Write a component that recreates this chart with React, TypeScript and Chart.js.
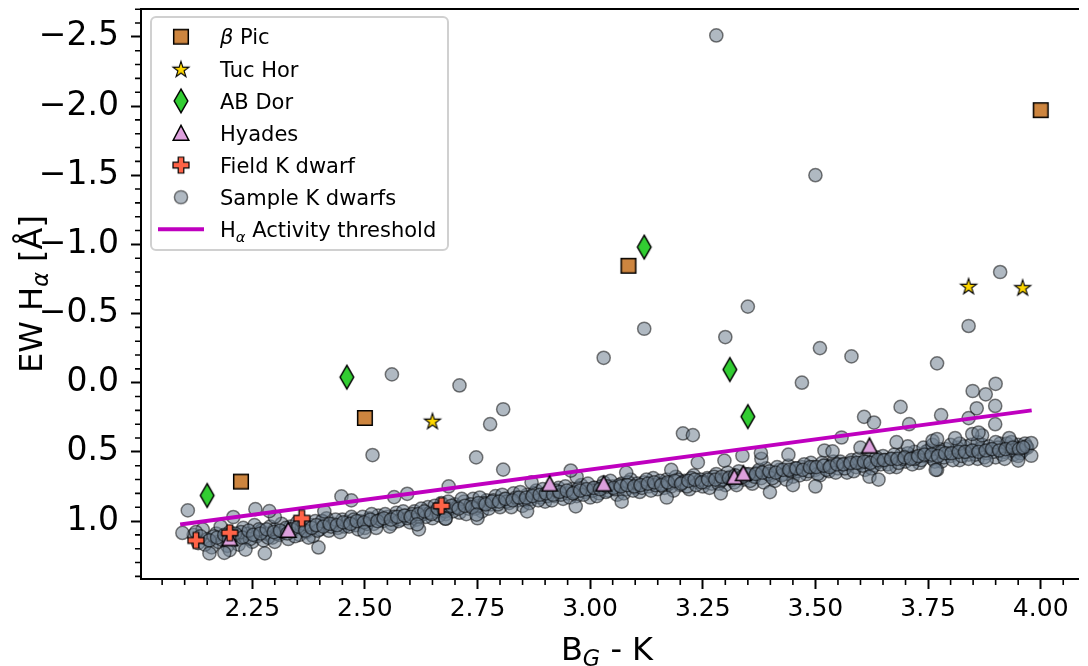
import React, { useEffect, useRef } from 'react';
import { Chart, registerables } from 'chart.js';
Chart.register(...registerables);

const FONT = '"DejaVu Sans", sans-serif';

const xTickValues = [2.25, 2.5, 2.75, 3.0, 3.25, 3.5, 3.75, 4.0];
const xTickLabels = ['2.25', '2.50', '2.75', '3.00', '3.25', '3.50', '3.75', '4.00'];
const yTickValues = [-2.5, -2.0, -1.5, -1.0, -0.5, 0.0, 0.5, 1.0];
const yTickLabels = ['\u22122.5', '\u22122.0', '\u22121.5', '\u22121.0', '\u22120.5', '0.0', '0.5', '1.0'];

const betaPicX = [2.225, 2.5, 3.085, 4.0];
const betaPicY = [0.715, 0.255, -0.845, -1.97];
const tucHorX = [2.65, 3.84, 3.96];
const tucHorY = [0.275, -0.7, -0.69];
const abDorX = [2.15, 2.46, 3.12, 3.31, 3.35];
const abDorY = [0.815, -0.04, -0.98, -0.095, 0.245];
const hyadesX = [2.2, 2.33, 2.91, 3.03, 3.32, 3.34, 3.62];
const hyadesY = [1.125, 1.065, 0.73, 0.73, 0.68, 0.655, 0.455];
const fieldX = [2.125, 2.2, 2.36, 2.67];
const fieldY = [1.14, 1.085, 0.98, 0.89];
const thresholdX = [2.09, 3.98];
const thresholdY = [1.025, 0.2];

const sampleOutliers: [number, number][] = [
  [3.28, -2.51], [3.5, -1.5], [3.91, -0.8], [3.35, -0.55], [3.84, -0.41], [3.12, -0.39], [3.3, -0.33],
  [3.51, -0.25], [3.58, -0.19], [3.03, -0.18], [3.77, -0.14], [2.56, -0.06], [3.47, 0.0], [3.9, 0.008],
  [2.71, 0.02], [3.849, 0.06], [3.878, 0.084], [3.858, 0.185], [3.899, 0.168], [3.84, 0.256], [3.899, 0.3],
  [3.779, 0.235], [3.689, 0.175], [3.608, 0.247], [3.63, 0.288], [3.708, 0.3], [3.558, 0.396], [3.538, 0.497],
  [3.379, 0.508], [3.338, 0.528], [3.399, 0.791], [3.767, 0.63], [3.95, 0.563], [3.979, 0.528], [3.979, 0.436],
  [3.961, 0.468], [3.848, 0.371], [3.862, 0.36], [3.77, 0.407], [2.807, 0.192], [2.778, 0.3], [2.747, 0.54],
  [2.807, 0.628], [3.206, 0.367], [3.228, 0.379], [2.968, 0.894], [2.748, 0.954], [2.679, 0.983], [2.957, 0.635],
  [3.239, 0.576], [3.298, 0.563], [2.107, 0.923], [2.095, 1.086], [2.517, 0.523], [2.155, 1.234], [2.188, 1.23],
  [2.235, 1.206], [2.278, 1.234], [2.397, 1.191], [2.257, 0.914], [2.288, 0.928], [2.448, 0.822], [2.47, 0.851],
  [2.499, 1.079], [2.616, 1.024], [2.686, 0.75], [2.565, 0.827], [2.594, 0.803], [2.679, 0.983], [2.208, 0.971],
];

const sampleBand: [number, number][] = [
  [2.12, 1.1], [2.13, 1.16], [2.14, 1.06], [2.15, 1.13], [2.16, 1.19], [2.17, 1.09], [2.175, 1.15], [2.18, 1.04],
  [2.19, 1.12], [2.195, 1.18], [2.2, 1.08], [2.21, 1.14], [2.215, 1.1], [2.22, 1.17], [2.23, 1.05], [2.235, 1.12],
  [2.24, 1.09], [2.25, 1.15], [2.255, 1.03], [2.26, 1.11], [2.27, 1.07], [2.275, 1.14], [2.28, 1.09], [2.29, 1.04],
  [2.295, 1.12], [2.3, 1.06], [2.31, 1.1], [2.315, 1.02], [2.32, 1.08], [2.33, 1.13], [2.335, 1.04], [2.34, 1.07],
  [2.35, 1.01], [2.355, 1.1], [2.36, 1.05], [2.37, 1.08], [2.38, 1.03], [2.385, 1.11], [2.39, 1.0], [2.4, 1.06],
  [2.41, 1.03], [2.415, 0.98], [2.42, 1.07], [2.43, 1.02], [2.44, 1.05], [2.45, 0.99], [2.455, 1.04], [2.46, 1.01],
  [2.47, 0.97], [2.48, 1.03], [2.49, 1.0], [2.5, 1.05], [2.51, 0.98], [2.52, 1.02], [2.53, 0.96], [2.54, 1.0],
  [2.55, 0.97], [2.56, 1.02], [2.57, 0.94], [2.58, 0.99], [2.59, 0.96], [2.6, 1.01], [2.61, 0.93], [2.62, 0.97],
  [2.63, 0.95], [2.64, 0.9], [2.65, 0.98], [2.66, 0.93], [2.67, 0.87], [2.68, 0.95], [2.69, 0.91], [2.7, 0.88],
  [2.71, 0.94], [2.72, 0.86], [2.73, 0.91], [2.74, 0.84], [2.75, 0.89], [2.76, 0.93], [2.77, 0.85], [2.78, 0.88],
  [2.79, 0.82], [2.8, 0.9], [2.81, 0.84], [2.82, 0.87], [2.83, 0.8], [2.84, 0.85], [2.85, 0.89], [2.86, 0.81],
  [2.87, 0.84], [2.88, 0.78], [2.89, 0.83], [2.9, 0.86], [2.91, 0.79], [2.92, 0.82], [2.93, 0.76], [2.94, 0.84],
  [2.95, 0.8], [2.96, 0.77], [2.97, 0.82], [2.98, 0.74], [2.99, 0.79], [3.0, 0.83], [3.01, 0.76], [3.02, 0.8],
  [3.03, 0.72], [3.04, 0.78], [3.05, 0.75], [3.06, 0.81], [3.07, 0.73], [3.08, 0.77], [3.09, 0.7], [3.1, 0.76],
  [3.11, 0.79], [3.12, 0.72], [3.13, 0.75], [3.14, 0.69], [3.15, 0.77], [3.16, 0.73], [3.17, 0.7], [3.18, 0.75],
  [3.19, 0.68], [3.2, 0.74], [3.21, 0.71], [3.22, 0.77], [3.23, 0.67], [3.24, 0.72], [3.25, 0.75], [3.26, 0.69],
  [3.27, 0.73], [3.28, 0.66], [3.29, 0.71], [3.3, 0.74], [3.31, 0.68], [3.32, 0.72], [3.33, 0.64], [3.34, 0.7],
  [3.35, 0.67], [3.36, 0.73], [3.37, 0.65], [3.38, 0.69], [3.39, 0.62], [3.4, 0.67], [3.41, 0.71], [3.42, 0.63],
  [3.43, 0.66], [3.44, 0.6], [3.45, 0.68], [3.46, 0.64], [3.47, 0.61], [3.48, 0.66], [3.49, 0.58], [3.5, 0.63],
  [3.51, 0.67], [3.52, 0.6], [3.53, 0.64], [3.54, 0.57], [3.55, 0.62], [3.56, 0.59], [3.57, 0.65], [3.58, 0.56],
  [3.59, 0.61], [3.6, 0.58], [3.61, 0.63], [3.62, 0.55], [3.63, 0.6], [3.64, 0.57], [3.65, 0.53], [3.66, 0.59],
  [3.67, 0.55], [3.68, 0.61], [3.69, 0.52], [3.7, 0.57], [3.71, 0.54], [3.72, 0.5], [3.73, 0.58], [3.74, 0.53],
  [3.75, 0.49], [3.76, 0.55], [3.77, 0.51], [3.78, 0.57], [3.79, 0.48], [3.8, 0.53], [3.81, 0.5], [3.82, 0.56],
  [3.83, 0.46], [3.84, 0.52], [3.85, 0.49], [3.86, 0.55], [3.87, 0.45], [3.88, 0.51], [3.89, 0.48], [3.9, 0.54],
  [3.91, 0.44], [3.92, 0.5], [3.93, 0.47], [3.94, 0.52], [3.95, 0.45], [3.96, 0.49], [3.97, 0.47],
  [2.125, 1.08], [2.145, 1.17], [2.165, 1.11], [2.185, 1.14], [2.205, 1.11], [2.225, 1.08], [2.245, 1.13],
  [2.265, 1.06], [2.285, 1.12], [2.305, 1.09], [2.325, 1.05], [2.345, 1.11], [2.365, 1.02], [2.375, 1.12],
  [2.395, 1.07], [2.405, 1.0], [2.425, 1.04], [2.435, 0.99], [2.445, 1.08], [2.465, 1.04], [2.475, 0.99],
  [2.485, 1.06], [2.495, 0.97], [2.505, 1.02], [2.515, 0.95], [2.525, 1.05], [2.535, 0.99], [2.545, 0.95],
  [2.555, 1.04], [2.565, 0.97], [2.575, 1.0], [2.585, 0.93], [2.595, 0.98], [2.605, 0.95], [2.615, 0.99],
  [2.625, 0.91], [2.635, 0.97], [2.645, 0.94], [2.655, 0.89], [2.665, 0.96], [2.675, 0.92], [2.685, 0.86],
  [2.695, 0.93], [2.705, 0.9], [2.715, 0.84], [2.725, 0.95], [2.735, 0.88], [2.745, 0.91], [2.755, 0.83],
  [2.765, 0.87], [2.775, 0.91], [2.785, 0.85], [2.795, 0.88], [2.805, 0.81], [2.815, 0.86], [2.825, 0.9],
  [2.835, 0.83], [2.845, 0.79], [2.855, 0.85], [2.865, 0.87], [2.875, 0.8], [2.885, 0.85], [2.895, 0.77],
  [2.905, 0.82], [2.915, 0.85], [2.925, 0.78], [2.935, 0.81], [2.945, 0.75], [2.955, 0.83], [2.965, 0.79],
  [2.975, 0.76], [2.985, 0.81], [2.995, 0.73], [3.005, 0.78], [3.015, 0.82], [3.025, 0.75], [3.035, 0.79],
  [3.045, 0.71], [3.055, 0.77], [3.065, 0.74], [3.075, 0.8], [3.085, 0.72], [3.095, 0.78], [3.105, 0.73],
  [3.115, 0.76], [3.125, 0.7], [3.135, 0.78], [3.145, 0.74], [3.155, 0.71], [3.165, 0.76], [3.175, 0.73],
  [3.185, 0.78], [3.195, 0.7], [3.205, 0.72], [3.215, 0.75], [3.225, 0.69], [3.235, 0.74], [3.245, 0.7],
  [3.255, 0.72], [3.265, 0.76], [3.275, 0.68], [3.285, 0.73], [3.295, 0.7], [3.305, 0.65], [3.315, 0.7],
  [3.325, 0.74], [3.345, 0.66], [3.355, 0.71], [3.365, 0.68], [3.375, 0.63], [3.385, 0.72], [3.395, 0.66],
  [3.405, 0.69], [3.415, 0.61], [3.425, 0.67], [3.435, 0.7], [3.445, 0.64], [3.455, 0.62], [3.465, 0.67],
  [3.475, 0.59], [3.485, 0.64], [3.495, 0.61], [3.505, 0.66], [3.515, 0.58], [3.525, 0.63], [3.535, 0.6],
  [3.545, 0.65], [3.555, 0.57], [3.565, 0.62], [3.575, 0.59], [3.585, 0.64], [3.595, 0.55], [3.605, 0.6],
  [3.615, 0.57], [3.625, 0.62], [3.635, 0.54], [3.645, 0.59], [3.655, 0.56], [3.665, 0.61], [3.675, 0.52],
  [3.685, 0.58], [3.695, 0.55], [3.705, 0.51], [3.715, 0.59], [3.725, 0.54], [3.735, 0.56], [3.745, 0.5],
  [3.755, 0.53], [3.765, 0.57], [3.775, 0.48], [3.785, 0.54], [3.795, 0.51], [3.805, 0.56], [3.815, 0.47],
  [3.825, 0.53], [3.835, 0.5], [3.845, 0.45], [3.855, 0.52], [3.865, 0.48], [3.875, 0.54], [3.885, 0.46],
  [3.895, 0.5], [3.905, 0.47], [3.915, 0.52], [3.925, 0.44], [3.935, 0.49], [3.945, 0.47], [3.955, 0.51],
  [3.965, 0.44],
  [3.705, 0.46], [3.72, 0.55], [3.74, 0.47], [3.76, 0.45], [3.78, 0.5], [3.8, 0.45], [3.82, 0.44], [3.84, 0.55],
  [3.86, 0.43], [3.88, 0.56], [3.9, 0.43], [3.92, 0.55], [3.935, 0.43], [3.95, 0.53],
  [2.2, 1.21], [2.3, 1.15], [2.62, 1.06], [2.75, 0.98], [2.86, 0.93], [3.07, 0.86], [3.17, 0.83], [3.29, 0.8],
  [3.45, 0.74], [3.62, 0.68], [3.77, 0.63], [3.64, 0.7], [3.5, 0.75],
  [2.3, 0.97], [2.41, 0.93], [2.87, 0.72], [2.97, 0.68], [3.08, 0.65], [3.18, 0.63], [3.38, 0.55], [3.44, 0.52],
  [3.52, 0.49], [3.6, 0.47], [3.68, 0.43], [3.76, 0.42], [3.81, 0.4], [3.87, 0.38], [3.93, 0.4],
];

const sampleCore: [number, number][] = [
  [2.135, 1.11], [2.155, 1.14], [2.172, 1.12], [2.188, 1.1], [2.198, 1.13], [2.212, 1.09], [2.228, 1.12],
  [2.242, 1.07], [2.252, 1.1], [2.268, 1.09], [2.282, 1.06], [2.298, 1.08], [2.312, 1.07], [2.328, 1.09],
  [2.338, 1.06], [2.352, 1.04], [2.368, 1.07], [2.382, 1.05], [2.392, 1.03], [2.408, 1.04], [2.422, 1.02],
  [2.438, 1.03], [2.452, 1.01], [2.468, 1.02], [2.482, 1.0], [2.498, 1.01], [2.512, 0.99], [2.528, 1.0],
  [2.542, 0.98], [2.558, 0.99], [2.572, 0.97], [2.588, 0.96], [2.602, 0.97], [2.618, 0.95], [2.632, 0.93],
  [2.648, 0.95], [2.662, 0.91], [2.678, 0.93], [2.692, 0.89], [2.708, 0.91], [2.722, 0.89], [2.738, 0.9],
  [2.752, 0.87], [2.768, 0.88], [2.782, 0.86], [2.798, 0.86], [2.812, 0.84], [2.828, 0.85], [2.842, 0.83],
  [2.858, 0.83], [2.872, 0.82], [2.888, 0.81], [2.902, 0.8], [2.918, 0.81], [2.932, 0.79], [2.948, 0.78],
  [2.962, 0.8], [2.978, 0.78], [2.992, 0.77], [3.008, 0.76], [3.022, 0.77], [3.038, 0.75], [3.052, 0.76],
  [3.068, 0.75], [3.082, 0.74], [3.098, 0.75], [3.112, 0.74], [3.128, 0.73], [3.142, 0.72], [3.158, 0.74],
  [3.172, 0.72], [3.188, 0.71], [3.202, 0.73], [3.218, 0.71], [3.232, 0.7], [3.248, 0.72], [3.262, 0.7],
  [3.278, 0.7], [3.292, 0.68], [3.308, 0.69], [3.322, 0.67], [3.338, 0.68], [3.352, 0.66], [3.368, 0.66],
  [3.382, 0.65], [3.398, 0.64], [3.412, 0.65], [3.428, 0.63], [3.442, 0.63], [3.458, 0.62], [3.472, 0.63],
  [3.488, 0.61], [3.502, 0.61], [3.518, 0.6], [3.532, 0.61], [3.548, 0.59], [3.562, 0.59], [3.578, 0.58],
  [3.592, 0.58], [3.608, 0.57], [3.622, 0.58], [3.638, 0.56], [3.652, 0.56], [3.668, 0.55], [3.682, 0.55],
  [3.698, 0.54], [3.712, 0.55], [3.728, 0.53], [3.742, 0.52], [3.758, 0.52], [3.772, 0.53], [3.788, 0.51],
  [3.802, 0.51], [3.818, 0.5], [3.832, 0.5], [3.848, 0.49], [3.862, 0.5], [3.878, 0.49], [3.892, 0.48],
  [3.908, 0.49], [3.922, 0.48], [3.938, 0.47], [3.952, 0.48], [3.968, 0.46],
];

const X_MIN = 2.0031;
const X_MAX = 4.085;
const Y_MIN = -2.7013;
const Y_MAX = 1.419;

function markerCanvas(w: number, h: number, draw: (ctx: CanvasRenderingContext2D, cx: number, cy: number) => void) {
  const c = document.createElement('canvas');
  c.width = w;
  c.height = h;
  const ctx = c.getContext('2d')!;
  draw(ctx, w / 2, h / 2);
  return c;
}

function finish(ctx: CanvasRenderingContext2D, fill: string, lw: number) {
  ctx.closePath();
  ctx.fillStyle = fill;
  ctx.fill();
  ctx.lineWidth = lw;
  ctx.strokeStyle = '#000';
  ctx.lineJoin = 'miter';
  ctx.stroke();
}

function makeMarkers() {
  const square = markerCanvas(20, 20, (ctx, cx, cy) => {
    ctx.beginPath();
    ctx.rect(cx - 7.3, cy - 7.3, 14.6, 14.6);
    finish(ctx, '#cd853f', 1.5);
  });
  const star = markerCanvas(22, 22, (ctx, cx, cy) => {
    const R = 8.4;
    const r = R * 0.382;
    ctx.beginPath();
    for (let i = 0; i < 10; i++) {
      const a = -Math.PI / 2 + (i * Math.PI) / 5;
      const rr = i % 2 === 0 ? R : r;
      const px = cx + rr * Math.cos(a);
      const py = cy + 1 + rr * Math.sin(a);
      if (i === 0) ctx.moveTo(px, py);
      else ctx.lineTo(px, py);
    }
    finish(ctx, '#ffd700', 1.1);
  });
  const diamond = markerCanvas(18, 28, (ctx, cx, cy) => {
    ctx.beginPath();
    ctx.moveTo(cx, cy - 11.8);
    ctx.lineTo(cx + 6.8, cy);
    ctx.lineTo(cx, cy + 11.8);
    ctx.lineTo(cx - 6.8, cy);
    finish(ctx, '#32cd32', 1.5);
  });
  const triangle = markerCanvas(22, 22, (ctx, cx, cy) => {
    ctx.beginPath();
    ctx.moveTo(cx, cy - 7.6);
    ctx.lineTo(cx + 7.8, cy + 7.2);
    ctx.lineTo(cx - 7.8, cy + 7.2);
    finish(ctx, '#dda0dd', 1.5);
  });
  const plus = markerCanvas(22, 22, (ctx, cx, cy) => {
    const s = 8;
    const t = 2.8;
    ctx.beginPath();
    ctx.moveTo(cx - t, cy - s);
    ctx.lineTo(cx + t, cy - s);
    ctx.lineTo(cx + t, cy - t);
    ctx.lineTo(cx + s, cy - t);
    ctx.lineTo(cx + s, cy + t);
    ctx.lineTo(cx + t, cy + t);
    ctx.lineTo(cx + t, cy + s);
    ctx.lineTo(cx - t, cy + s);
    ctx.lineTo(cx - t, cy + t);
    ctx.lineTo(cx - s, cy + t);
    ctx.lineTo(cx - s, cy - t);
    ctx.lineTo(cx - t, cy - t);
    finish(ctx, '#ff6347', 1.2);
  });
  const circle = markerCanvas(20, 20, (ctx, cx, cy) => {
    ctx.beginPath();
    ctx.arc(cx, cy, 6.6, 0, Math.PI * 2);
    ctx.fillStyle = 'rgba(112,128,144,0.55)';
    ctx.fill();
    ctx.lineWidth = 1.5;
    ctx.strokeStyle = 'rgba(0,0,0,0.5)';
    ctx.stroke();
  });
  return { square, star, diamond, triangle, plus, circle };
}

type Run = { text: string; font: string; dy?: number };

function drawRuns(ctx: CanvasRenderingContext2D, runs: Run[], x: number, y: number, align: 'left' | 'center') {
  let total = 0;
  for (const r of runs) {
    ctx.font = r.font;
    total += ctx.measureText(r.text).width;
  }
  let cx = align === 'center' ? x - total / 2 : x;
  ctx.textAlign = 'left';
  ctx.textBaseline = 'alphabetic';
  for (const r of runs) {
    ctx.font = r.font;
    ctx.fillText(r.text, cx, y + (r.dy || 0));
    cx += ctx.measureText(r.text).width;
  }
}

const TITLE = 32;
const SUB = TITLE * 0.7;

export default function App() {
  const ref = useRef<HTMLCanvasElement | null>(null);

  useEffect(() => {
    document.body.style.margin = '0';
    const canvas = ref.current;
    if (!canvas) return;
    const m = makeMarkers();

    const xMinor: number[] = [];
    for (let i = 41; i <= 81; i++) {
      const v = i * 0.05;
      if (v > X_MIN && v < X_MAX && i % 5 !== 0) xMinor.push(v);
    }
    const yMinor: number[] = [];
    for (let i = -27; i <= 14; i++) {
      const v = i * 0.1;
      if (v >= Y_MIN - 1e-6 && v < Y_MAX && i % 5 !== 0) yMinor.push(v);
    }

    const legendItems: { runs: Run[]; icon: HTMLCanvasElement | null }[] = [
      { runs: [{ text: '\u03b2', font: `italic 21px ${FONT}` }, { text: ' Pic', font: `21px ${FONT}` }], icon: m.square },
      { runs: [{ text: 'Tuc Hor', font: `21px ${FONT}` }], icon: m.star },
      { runs: [{ text: 'AB Dor', font: `21px ${FONT}` }], icon: m.diamond },
      { runs: [{ text: 'Hyades', font: `21px ${FONT}` }], icon: m.triangle },
      { runs: [{ text: 'Field K dwarf', font: `21px ${FONT}` }], icon: m.plus },
      { runs: [{ text: 'Sample K dwarfs', font: `21px ${FONT}` }], icon: m.circle },
      {
        runs: [
          { text: 'H', font: `21px ${FONT}` },
          { text: '\u03b1', font: `italic 14.7px ${FONT}`, dy: 4.6 },
          { text: ' Activity threshold', font: `21px ${FONT}` },
        ],
        icon: null,
      },
    ];

    const decor = {
      id: 'decor',
      afterDraw(chart: any) {
        const { ctx, chartArea: a, scales } = chart;
        const xs = scales.x;
        const ys = scales.y;
        ctx.save();
        ctx.strokeStyle = '#000';
        ctx.lineWidth = 2;
        ctx.lineCap = 'butt';
        ctx.beginPath();
        ctx.moveTo(a.left, a.bottom);
        ctx.lineTo(a.left, a.top);
        ctx.lineTo(a.right, a.top);
        ctx.moveTo(a.left - 1, a.bottom);
        ctx.lineTo(a.right, a.bottom);
        ctx.stroke();

        ctx.lineWidth = 1.6;
        ctx.beginPath();
        for (const v of xMinor) {
          const px = xs.getPixelForValue(v);
          ctx.moveTo(px, a.bottom);
          ctx.lineTo(px, a.bottom + 6);
        }
        for (const v of yMinor) {
          const py = ys.getPixelForValue(v);
          ctx.moveTo(a.left, py);
          ctx.lineTo(a.left - 6, py);
        }
        ctx.stroke();

        // legend
        ctx.beginPath();
        ctx.roundRect(151, 17, 297, 233, 5);
        ctx.fillStyle = 'rgba(255,255,255,0.85)';
        ctx.fill();
        ctx.lineWidth = 2;
        ctx.strokeStyle = '#d0d0d0';
        ctx.stroke();
        ctx.fillStyle = '#000';
        legendItems.forEach((it, i) => {
          const ry = 36.7 + i * 32.1;
          if (it.icon) {
            ctx.drawImage(it.icon, 181 - it.icon.width / 2, ry - it.icon.height / 2);
          } else {
            ctx.beginPath();
            ctx.strokeStyle = '#bf00bf';
            ctx.lineWidth = 4;
            ctx.moveTo(158, ry);
            ctx.lineTo(204, ry);
            ctx.stroke();
          }
          ctx.fillStyle = '#000';
          drawRuns(ctx, it.runs, 220, ry + 7.7, 'left');
        });

        // axis titles
        ctx.fillStyle = '#000';
        drawRuns(
          ctx,
          [
            { text: 'B', font: `${TITLE}px ${FONT}` },
            { text: 'G', font: `italic ${SUB}px ${FONT}`, dy: TITLE * 0.2 },
            { text: ' - K', font: `${TITLE}px ${FONT}` },
          ],
          607,
          660,
          'center'
        );
        ctx.save();
        ctx.translate(42, (a.top + a.bottom) / 2);
        ctx.rotate(-Math.PI / 2);
        drawRuns(
          ctx,
          [
            { text: 'EW H', font: `${TITLE}px ${FONT}` },
            { text: '\u03b1', font: `italic ${SUB}px ${FONT}`, dy: TITLE * 0.2 },
            { text: ' [\u00c5]', font: `${TITLE}px ${FONT}` },
          ],
          0,
          0,
          'center'
        );
        ctx.restore();
        ctx.restore();
      },
    };

    const pts = (xs: number[], ys: number[]) => xs.map((x, i) => ({ x, y: ys[i] }));
    const samples = [...sampleBand, ...sampleCore, ...sampleOutliers].map(([x, y]) => ({ x, y }));

    const chart = new Chart(canvas, {
      type: 'scatter',
      data: {
        datasets: [
          {
            label: 'Sample K dwarfs',
            data: samples,
            pointStyle: 'circle',
            pointRadius: 6.6,
            backgroundColor: 'rgba(112,128,144,0.55)',
            borderColor: 'rgba(0,0,0,0.5)',
            borderWidth: 1.5,
            order: 5,
          } as any,
          {
            type: 'line',
            label: 'H\u03b1 Activity threshold',
            data: pts(thresholdX, thresholdY),
            borderColor: '#bf00bf',
            borderWidth: 4,
            pointRadius: 0,
            showLine: true,
            fill: false,
            order: 4,
          } as any,
          { label: '\u03b2 Pic', data: pts(betaPicX, betaPicY), pointStyle: m.square, pointRadius: 8, order: 1 } as any,
          { label: 'Tuc Hor', data: pts(tucHorX, tucHorY), pointStyle: m.star, pointRadius: 8, order: 1 } as any,
          { label: 'AB Dor', data: pts(abDorX, abDorY), pointStyle: m.diamond, pointRadius: 8, order: 1 } as any,
          { label: 'Hyades', data: pts(hyadesX, hyadesY), pointStyle: m.triangle, pointRadius: 8, order: 2 } as any,
          { label: 'Field K dwarf', data: pts(fieldX, fieldY), pointStyle: m.plus, pointRadius: 8, order: 1 } as any,
        ],
      },
      options: {
        animation: false,
        responsive: true,
        maintainAspectRatio: false,
        events: [],
        layout: { padding: { top: 6, left: 0, right: 0, bottom: 0 } },
        plugins: { legend: { display: false }, tooltip: { enabled: false }, title: { display: false } },
        scales: {
          x: {
            type: 'linear',
            min: X_MIN,
            max: X_MAX,
            afterBuildTicks: (s: any) => {
              s.ticks = xTickValues.map((v) => ({ value: v }));
            },
            afterFit: (s: any) => {
              s.height = 87;
              s.paddingLeft = 0;
              s.paddingRight = 0;
              s.paddingTop = 0;
              s.paddingBottom = 0;
            },
            ticks: {
              callback: (_v: any, i: number) => xTickLabels[i],
              font: { family: FONT, size: 25 },
              color: '#000',
              padding: 5,
              maxRotation: 0,
              autoSkip: false,
            },
            grid: { display: true, drawOnChartArea: false, drawTicks: true, tickLength: 10, tickWidth: 2, tickColor: '#000' },
            border: { display: false },
          },
          y: {
            type: 'linear',
            reverse: true,
            min: Y_MIN,
            max: Y_MAX,
            afterBuildTicks: (s: any) => {
              s.ticks = yTickValues.map((v) => ({ value: v }));
            },
            afterFit: (s: any) => {
              s.width = 141;
              s.paddingLeft = 0;
              s.paddingRight = 0;
              s.paddingTop = 0;
              s.paddingBottom = 0;
            },
            ticks: {
              callback: (_v: any, i: number) => yTickLabels[i],
              font: { family: FONT, size: 33 },
              color: '#000',
              padding: 12,
              autoSkip: false,
            },
            grid: { display: true, drawOnChartArea: false, drawTicks: true, tickLength: 10, tickWidth: 2, tickColor: '#000' },
            border: { display: false },
          },
        },
      },
      plugins: [decor],
    } as any);

    return () => chart.destroy();
  }, []);

  return (
    <div style={{ position: 'relative', width: 1088, height: 666 }}>
      <canvas ref={ref} />
    </div>
  );
}
